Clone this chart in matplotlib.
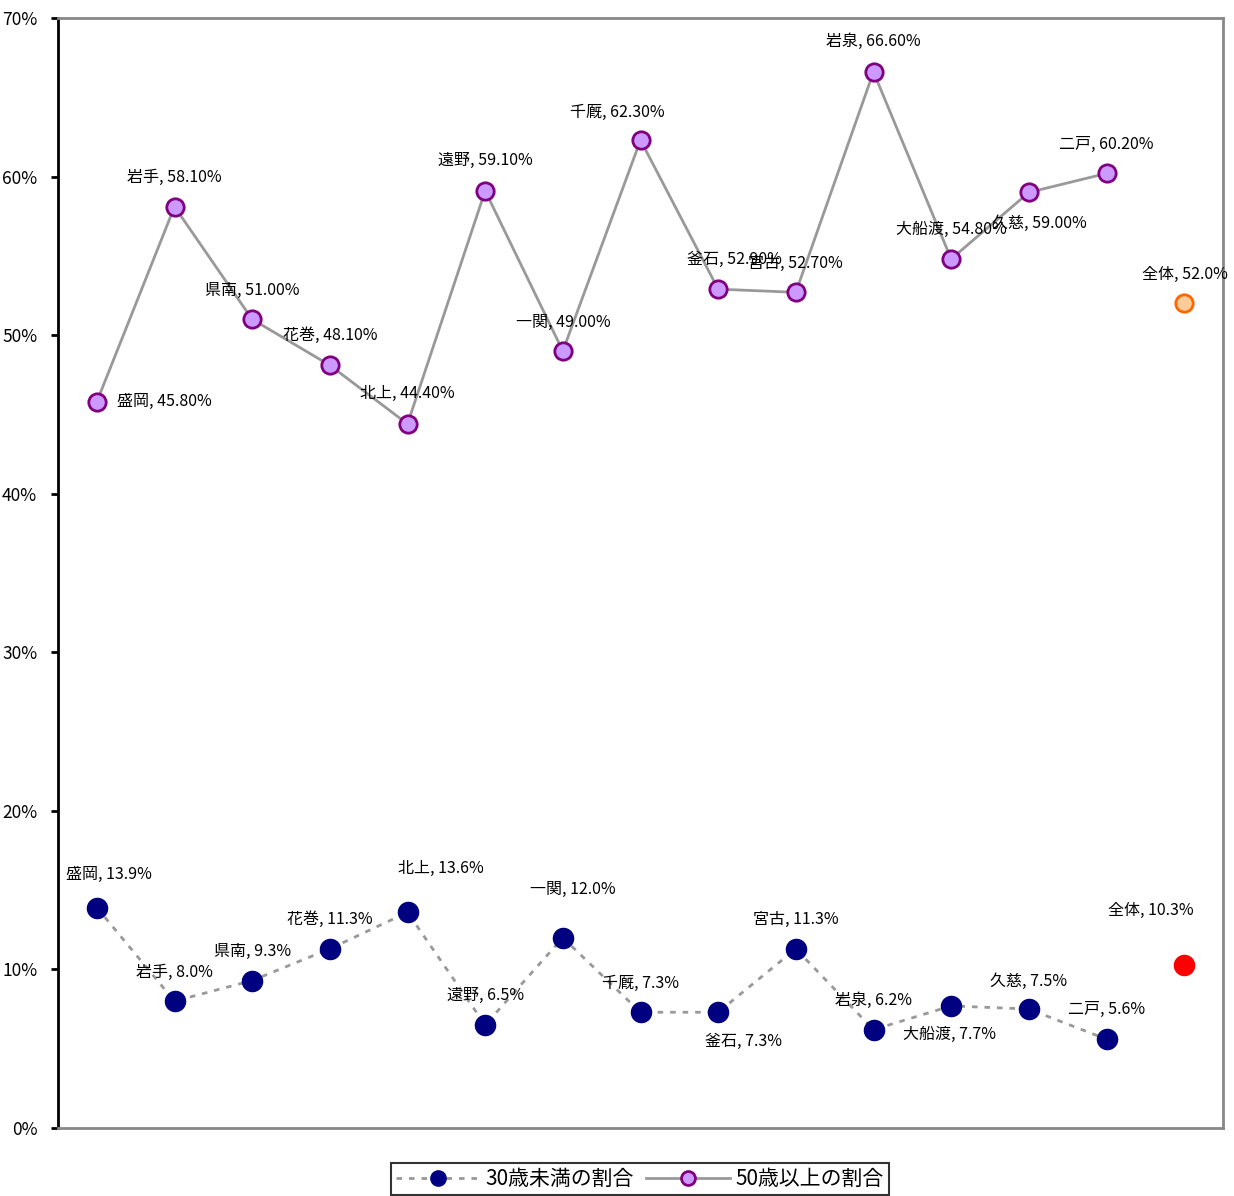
import matplotlib
matplotlib.use("Agg")
import matplotlib.pyplot as plt
from matplotlib.lines import Line2D

plt.rcParams['font.family'] = ['Noto Sans CJK JP', 'DejaVu Sans']

# 地域
areas = ['盛岡', '岩手', '県南', '花巻', '北上', '遠野', '一関', '千厩',
         '釜石', '宮古', '岩泉', '大船渡', '久慈', '二戸']
total_name = '全体'

# 割合 (%)
under30 = [13.9, 8.0, 9.3, 11.3, 13.6, 6.5, 12.0, 7.3, 7.3, 11.3, 6.2, 7.7, 7.5, 5.6]
over50 = [45.8, 58.1, 51.0, 48.1, 44.4, 59.1, 49.0, 62.3, 52.9, 52.7, 66.6, 54.8, 59.0, 60.2]
under30_total = 10.3
over50_total = 52.0

# label offsets in pixels (dx, dy)
off_over50 = [(20, 0), (0, 29), (0, 29), (0, 30), (0, 30), (0, 30), (0, 29), (-23, 28),
              (16, 30), (0, 29), (0, 30), (0, 30), (11, -31), (0, 29)]
off_under30 = [(12, 33), (0, 29), (0, 29), (0, 29), (33, 44), (0, 29), (10, 48), (0, 29),
               (25, -29), (0, 29), (0, 29), (-2, -29), (0, 28), (0, 30)]

fig = plt.figure(figsize=(12.34, 11.96), dpi=100)
ax = fig.add_axes([58 / 1234, 68 / 1196, 1165 / 1234, 1110 / 1196])

x = list(range(len(areas)))
xt = len(areas)

ax.plot(x, under30, color='#999999', lw=2, dashes=(2, 2.5), marker='o',
        ms=14.5, mfc='#000080', mec='#000080', zorder=3)
ax.plot(x, over50, color='#999999', lw=2, marker='o',
        ms=12.5, mfc='#CC99FF', mec='#800080', mew=2, zorder=3)
ax.plot([xt], [under30_total], ls='none', marker='o', ms=14.5,
        mfc='#FF0000', mec='#FF0000', zorder=3)
ax.plot([xt], [over50_total], ls='none', marker='o', ms=12.5,
        mfc='#FFCC99', mec='#FF6600', mew=2, zorder=3)

lab_fs = 11.5
for i, name in enumerate(areas):
    dx, dy = off_over50[i]
    ax.annotate(f'{name}, {over50[i]:.2f}%', (i, over50[i]), xytext=(dx, dy),
                textcoords='offset pixels', ha='left' if dx == 20 else 'center',
                va='center', fontsize=lab_fs, zorder=4)
    dx, dy = off_under30[i]
    ax.annotate(f'{name}, {under30[i]:.1f}%', (i, under30[i]), xytext=(dx, dy),
                textcoords='offset pixels', ha='center', va='center',
                fontsize=lab_fs, zorder=4)
ax.annotate(f'{total_name}, {over50_total:.1f}%', (xt, over50_total), xytext=(1, 29),
            textcoords='offset pixels', ha='center', va='center', fontsize=lab_fs)
ax.annotate(f'{total_name}, {under30_total:.1f}%', (xt, under30_total), xytext=(-33, 54),
            textcoords='offset pixels', ha='center', va='center', fontsize=lab_fs)

ax.set_xlim(-0.5, xt + 0.5)
ax.set_ylim(0, 70)
ax.set_yticks(range(0, 71, 10))
ax.set_yticklabels([f'{v}%' for v in range(0, 71, 10)], fontsize=12.5)
ax.set_xticks([])
ax.tick_params(axis='y', direction='out', length=5, width=2, pad=10)

ax.spines['left'].set_color('black')
ax.spines['left'].set_linewidth(2)
for s in ['top', 'right', 'bottom']:
    ax.spines[s].set_color('#888888')
    ax.spines[s].set_linewidth(2)

handles = [
    Line2D([], [], color='#999999', lw=2, dashes=(2, 2.5), marker='o', ms=11,
           mfc='#000080', mec='#000080'),
    Line2D([], [], color='#999999', lw=2, marker='o', ms=10,
           mfc='#CC99FF', mec='#800080', mew=2),
]
leg = fig.legend(handles, ['30歳未満の割合', '50歳以上の割合'], loc='upper center',
                 bbox_to_anchor=(640 / 1234, 1 - 1163 / 1196), ncol=2,
                 fontsize=15, frameon=True, fancybox=False, handlelength=4,
                 columnspacing=0.6, handletextpad=0.3, borderpad=0.25,
                 borderaxespad=0)
leg.get_frame().set_edgecolor('black')
leg.get_frame().set_linewidth(1.5)

fig.savefig('out.png', dpi=100)
